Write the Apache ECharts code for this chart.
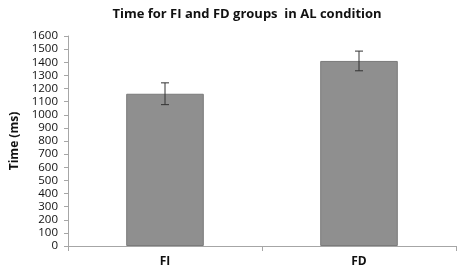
<!DOCTYPE html>
<html>
<head>
<meta charset="utf-8">
<script src="https://cdn.jsdelivr.net/npm/echarts@6/dist/echarts.min.js"></script>
<style>
  html, body { margin: 0; padding: 0; background: #fff; }
  #chart { width: 459px; height: 271px; }
</style>
</head>
<body>
<div id="chart"></div>
<script>
// data
const groups = ['FI', 'FD'];
const meanTime = [1160, 1410];
const errTime = [83, 75];

const errData = groups.map((g, i) => [i, meanTime[i] - errTime[i], meanTime[i] + errTime[i]]);

const font = '"Open Sans", sans-serif';
const myChart = echarts.init(document.getElementById('chart'));

const option = {
  animation: false,
  title: {
    text: 'Time for FI and FD groups  in AL condition',
    left: 242,
    textAlign: 'center',
    top: 3,
    textStyle: { fontFamily: font, fontSize: 13, fontWeight: 'bold', color: '#111' }
  },
  grid: { left: 68, right: 3, top: 36, bottom: 25 },
  xAxis: {
    type: 'category',
    data: groups,
    axisLine: { lineStyle: { color: '#a6a6a6' } },
    axisTick: { show: true, alignWithLabel: false, length: 5, lineStyle: { color: '#a6a6a6' } },
    axisLabel: { fontFamily: font, fontSize: 12, fontWeight: 'bold', color: '#111', margin: 10 }
  },
  yAxis: {
    type: 'value',
    min: 0,
    max: 1600,
    interval: 100,
    name: 'Time (ms)',
    nameLocation: 'middle',
    nameGap: 47,
    nameRotate: 90,
    nameTextStyle: { fontFamily: font, fontSize: 12, fontWeight: 'bold', color: '#111' },
    axisLine: { show: true, lineStyle: { color: '#a6a6a6' } },
    axisTick: { show: true, length: 4, lineStyle: { color: '#a6a6a6' } },
    axisLabel: { fontFamily: font, fontSize: 11.5, color: '#111', margin: 10, formatter: v => String(v) },
    splitLine: { show: false }
  },
  series: [
    {
      type: 'bar',
      data: meanTime,
      barWidth: '40%',
      itemStyle: { color: '#8f8f8f', borderColor: '#7b7b7b', borderWidth: 1 }
    },
    {
      type: 'custom',
      data: errData,
      z: 10,
      renderItem: function (params, api) {
        const x = api.value(0);
        const lo = api.coord([x, api.value(1)]);
        const hi = api.coord([x, api.value(2)]);
        const cap = 4;
        const style = { stroke: '#333', lineWidth: 1 };
        return {
          type: 'group',
          children: [
            { type: 'line', shape: { x1: lo[0], y1: lo[1], x2: hi[0], y2: hi[1] }, style: style },
            { type: 'line', shape: { x1: lo[0] - cap, y1: lo[1], x2: lo[0] + cap, y2: lo[1] }, style: style },
            { type: 'line', shape: { x1: hi[0] - cap, y1: hi[1], x2: hi[0] + cap, y2: hi[1] }, style: style }
          ]
        };
      }
    }
  ]
};

myChart.setOption(option);
</script>
</body>
</html>
